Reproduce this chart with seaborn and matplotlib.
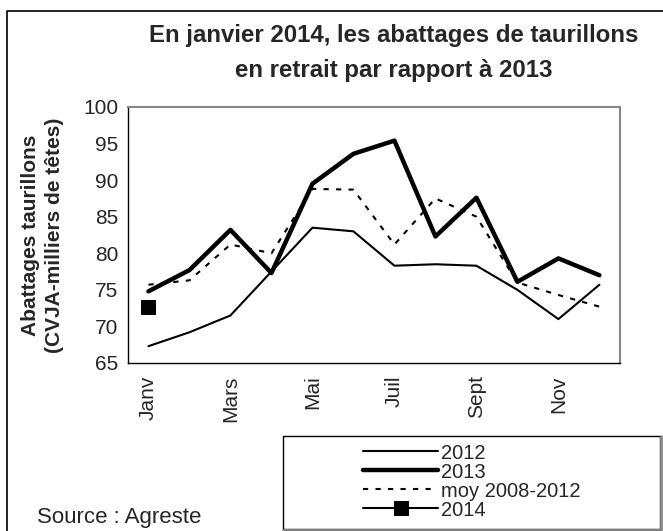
import pandas as pd
import matplotlib.pyplot as plt
import seaborn as sns

# Values
mois = ['Janv', 'Févr', 'Mars', 'Avr', 'Mai', 'Juin', 'Juil', 'Août', 'Sept', 'Oct', 'Nov', 'Déc']
v2012 = [67.3, 69.2, 71.5, 77.5, 83.5, 83.0, 78.3, 78.5, 78.3, 75.0, 71.0, 75.7]
v2013 = [74.8, 77.7, 83.2, 77.3, 89.5, 93.6, 95.4, 82.3, 87.6, 76.1, 79.3, 77.0]
moy = [75.7, 76.3, 81.2, 80.0, 88.8, 88.7, 81.2, 87.5, 85.0, 76.0, 74.3, 72.7]
v2014 = [72.7]
labels_affiches = ['Janv', 'Mars', 'Mai', 'Juil', 'Sept', 'Nov']

sns.set_style('white')
plt.rcParams['font.family'] = ['Liberation Sans', 'DejaVu Sans']

fig = plt.figure(figsize=(6.63, 5.31), dpi=100)
ax = fig.add_axes([0.193, 0.3164, 0.742, 0.4821])

x = list(range(len(mois)))
sns.lineplot(x=x, y=v2012, ax=ax, color='black', lw=1.5, label='2012')
sns.lineplot(x=x, y=v2013, ax=ax, color='black', lw=3.2, label='2013')
sns.lineplot(x=x, y=moy, ax=ax, color='black', lw=1.5, linestyle=(0, (2.5, 3.5)),
             label='moy 2008-2012')
sns.lineplot(x=x[:len(v2014)], y=v2014, ax=ax, color='black', lw=1.5, marker='s',
             markersize=9.5, markeredgecolor='black', label='2014')

ax.set_xlim(-0.5, 11.5)
ax.set_ylim(65, 100)
ax.set_yticks(range(65, 101, 5))
ax.set_xticks([i - 0.5 for i in range(13)])
ax.set_xticklabels([])
ax.set_xticks([mois.index(m) for m in labels_affiches], minor=True)
ax.set_xticklabels(labels_affiches, minor=True, rotation=90, fontsize=15)
ax.tick_params(axis='x', which='major', direction='out', length=5, width=1, color='black')
ax.tick_params(axis='x', which='minor', length=0, pad=9)
ax.tick_params(axis='y', direction='out', length=5, width=1, color='black',
               labelsize=15, pad=2)

for s in ['left', 'bottom']:
    ax.spines[s].set_color('black')
    ax.spines[s].set_linewidth(1)
for s in ['top', 'right']:
    ax.spines[s].set_color('#888888')
    ax.spines[s].set_linewidth(1.5)

ax.set_ylabel('Abattages taurillons\n(CVJA-milliers de têtes)', fontsize=15,
              fontweight='bold', labelpad=14, linespacing=1.3)

fig.text(0.5935, 0.9, 'En janvier 2014, les abattages de taurillons\nen retrait par rapport à 2013',
         ha='center', va='center', fontsize=17.3, fontweight='bold', linespacing=1.7)
fig.text(0.056, 0.026, 'Source : Agreste', fontsize=16, ha='left', va='center')

leg = ax.legend(loc='center left', bbox_to_anchor=(0.5475, 0.0932), bbox_transform=fig.transFigure,
                frameon=False, fontsize=14.5, handlelength=3.73,
                handletextpad=0.15, labelspacing=0.0, borderpad=0,
                borderaxespad=0)

# legend box (with Excel-like grey shadow on right/bottom)
fig.patches.append(plt.Rectangle((0.4268, 0.0038), 0.569, 0.1751, transform=fig.transFigure,
                                 fill=False, edgecolor='black', lw=1))
fig.lines.append(plt.Line2D([0.4268, 0.997, 0.997], [0.0025, 0.0025, 0.1789],
                            transform=fig.transFigure, color='#888888', lw=2))

# figure border (only left and top visible, cropped elsewhere)
fig.lines.append(plt.Line2D([0.0106, 0.0106, 1.0], [0.0, 0.979, 0.979],
                            transform=fig.transFigure, color='black', lw=1.2))

fig.savefig('out.png', dpi=100)
